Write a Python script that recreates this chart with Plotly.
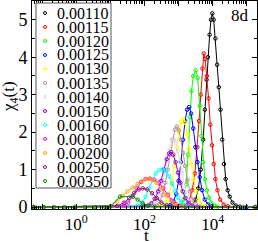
import plotly.graph_objects as go

# ---- data (log10 t , chi4) ----
labels = ["0.00110", "0.00115", "0.00120", "0.00125", "0.00130", "0.00135", "0.00140",
          "0.00150", "0.00160", "0.00180", "0.00200", "0.00250", "0.00350"]
colors = ["#000000", "#ff0000", "#00ff00", "#0000ff", "#ffff00", "#bc8f8f", "#dcdcdc",
          "#9400d3", "#00ffff", "#ff00ff", "#ffa500", "#8b1a6b", "#008b00"]

lt_110 = [-1.25, 3.2, 3.40, 3.50, 3.58, 3.65, 3.72, 3.77, 3.82, 3.86, 3.91, 3.95, 3.99, 4.03, 4.08, 4.13, 4.18, 4.23, 4.28, 4.33, 4.38, 4.44, 4.50, 4.58, 4.68, 4.80, 4.9, 5.25]
y_110 = [0.0, 0.01, 0.05, 0.2, 0.5, 1.0, 1.8, 2.6, 3.4, 4.0, 4.6, 5.0, 5.17, 5.0, 4.5, 3.8, 3.2, 2.6, 1.8, 1.15, 0.75, 0.45, 0.28, 0.12, 0.04, 0.01, 0.0, 0.0]

lt_115 = [-1.25, 3.20, 3.30, 3.40, 3.48, 3.55, 3.60, 3.65, 3.70, 3.74, 3.78, 3.83, 3.88, 3.93, 3.98, 4.03, 4.08, 4.14, 4.22, 4.32, 4.45, 5.25]
y_115 = [0.0, 0.05, 0.15, 0.45, 0.9, 1.6, 2.3, 3.0, 3.7, 4.1, 3.95, 3.5, 2.9, 2.2, 1.65, 1.15, 0.75, 0.45, 0.2, 0.07, 0.02, 0.0]

lt_120 = [-1.25, 3.05, 3.15, 3.22, 3.28, 3.33, 3.38, 3.43, 3.50, 3.56, 3.62, 3.67, 3.72, 3.77, 3.83, 3.89, 3.96, 4.05, 4.15, 5.25]
y_120 = [0.0, 0.05, 0.2, 0.6, 1.4, 2.4, 3.1, 3.5, 3.65, 3.45, 2.7, 1.9, 1.2, 0.75, 0.45, 0.25, 0.12, 0.05, 0.01, 0.0]

lt_125 = [-1.25, 2.75, 2.85, 2.93, 3.00, 3.07, 3.13, 3.19, 3.25, 3.31, 3.37, 3.43, 3.49, 3.55, 3.62, 3.69, 3.77, 3.86, 3.97, 5.0, 5.25]
y_125 = [0.0, 0.05, 0.15, 0.35, 0.7, 1.2, 1.8, 2.3, 2.6, 2.67, 2.5, 2.1, 1.6, 1.2, 0.8, 0.45, 0.2, 0.07, 0.02, 0.0, 0.0]

lt_130 = [-1.25, 2.55, 2.65, 2.73, 2.81, 2.88, 2.95, 3.01, 3.07, 3.13, 3.19, 3.25, 3.31, 3.37, 3.44, 3.51, 3.59, 3.68, 3.80, 5.25]
y_130 = [0.0, 0.05, 0.15, 0.35, 0.7, 1.1, 1.6, 2.0, 2.28, 2.36, 2.25, 1.95, 1.55, 1.15, 0.75, 0.42, 0.2, 0.08, 0.02, 0.0]

lt_135 = [-1.25, 2.35, 2.45, 2.53, 2.61, 2.68, 2.75, 2.82, 2.89, 2.95, 3.01, 3.07, 3.13, 3.19, 3.26, 3.33, 3.41, 3.50, 3.62, 5.25]
y_135 = [0.0, 0.05, 0.15, 0.33, 0.65, 1.0, 1.4, 1.8, 2.07, 2.15, 2.05, 1.8, 1.45, 1.1, 0.72, 0.42, 0.2, 0.08, 0.02, 0.0]

lt_140 = [-1.25, 2.25, 2.35, 2.43, 2.51, 2.59, 2.66, 2.73, 2.80, 2.86, 2.92, 2.98, 3.04, 3.10, 3.17, 3.24, 3.32, 3.42, 3.55, 5.25]
y_140 = [0.0, 0.05, 0.15, 0.3, 0.55, 0.9, 1.25, 1.55, 1.75, 1.8, 1.72, 1.5, 1.2, 0.9, 0.58, 0.33, 0.16, 0.06, 0.02, 0.0]

lt_150 = [-1.25, 2.10, 2.20, 2.30, 2.40, 2.49, 2.57, 2.65, 2.72, 2.78, 2.84, 2.91, 2.98, 3.05, 3.12, 3.20, 3.29, 3.40, 3.55, 5.25]
y_150 = [0.0, 0.04, 0.1, 0.22, 0.42, 0.7, 1.0, 1.28, 1.43, 1.47, 1.4, 1.2, 0.92, 0.65, 0.42, 0.24, 0.11, 0.04, 0.01, 0.0]

lt_160 = [-1.25, 1.80, 1.92, 2.03, 2.13, 2.23, 2.33, 2.44, 2.54, 2.63, 2.72, 2.81, 2.90, 2.99, 3.08, 3.18, 3.30, 4.9, 5.25]
y_160 = [0.0, 0.04, 0.12, 0.28, 0.5, 0.72, 0.9, 0.99, 1.01, 0.96, 0.82, 0.62, 0.42, 0.25, 0.13, 0.06, 0.02, 0.0, 0.0]

lt_180 = [-1.25, 1.40, 1.52, 1.64, 1.77, 1.90, 2.03, 2.16, 2.29, 2.42, 2.55, 2.68, 2.80, 2.92, 3.05, 5.25]
y_180 = [0.0, 0.04, 0.12, 0.3, 0.5, 0.67, 0.75, 0.76, 0.73, 0.65, 0.5, 0.33, 0.18, 0.08, 0.03, 0.0]

lt_200 = [-1.25, 1.00, 1.20, 1.35, 1.50, 1.65, 1.80, 1.95, 2.10, 2.22, 2.35, 2.50, 2.65, 2.80, 2.95, 3.10, 5.25]
y_200 = [0.0, 0.03, 0.15, 0.3, 0.42, 0.52, 0.62, 0.7, 0.75, 0.74, 0.65, 0.48, 0.3, 0.15, 0.06, 0.02, 0.0]

lt_250 = [-1.25, 1.20, 1.40, 1.55, 1.70, 1.83, 1.95, 2.08, 2.22, 2.36, 2.50, 2.65, 2.80, 5.25]
y_250 = [0.0, 0.03, 0.12, 0.25, 0.38, 0.47, 0.5, 0.47, 0.37, 0.24, 0.12, 0.05, 0.01, 0.0]

lt_350 = [-1.25, -0.95, -0.65, -0.35, -0.05, 0.25, 0.55, 0.85, 1.00, 1.28, 1.66, 1.80, 1.95, 2.10, 2.30, 5.25]
y_350 = [0.0, 0.0, 0.0, 0.0, 0.0, 0.0, 0.0, 0.0, 0.02, 0.28, 0.28, 0.2, 0.1, 0.04, 0.01, 0.0]

series_lt = [lt_110, lt_115, lt_120, lt_125, lt_130, lt_135, lt_140, lt_150, lt_160, lt_180, lt_200, lt_250, lt_350]
series_y = [y_110, y_115, y_120, y_125, y_130, y_135, y_140, y_150, y_160, y_180, y_200, y_250, y_350]

x_tick_vals = [1e-1, 1e0, 1e1, 1e2, 1e3, 1e4, 1e5]
x_tick_text = ["", "10<sup>0</sup>", "", "10<sup>2</sup>", "", "10<sup>4</sup>", ""]
y_tick_vals = [0, 1, 2, 3, 4, 5]

# ---- figure ----
W, H = 258, 242
L, R, T, B = 32, 1, 1, 33
PW, PH = W - L - R, H - T - B
SERIF = "Liberation Serif, Times New Roman, serif"


def px(xp):
    return (xp - L) / PW


def py(yp):
    return (H - B - yp) / PH


fig = go.Figure()
for lt, yv, c, lab in zip(series_lt, series_y, colors, labels):
    fig.add_trace(go.Scatter(
        x=[10 ** v for v in lt], y=yv, mode="lines+markers", name=lab,
        line=dict(color=c, width=1),
        marker=dict(symbol="circle-open", size=3.5, color=c, line=dict(width=1, color=c)),
        showlegend=False, hoverinfo="skip",
    ))

minor_x = [m * 10 ** d for d in range(-2, 6) for m in range(2, 10)]

fig.update_layout(
    width=W, height=H, margin=dict(l=L, r=R, t=T, b=B),
    paper_bgcolor="white", plot_bgcolor="white",
    font=dict(family=SERIF, size=16, color="black"),
    xaxis=dict(type="log", range=[-1.3, 5.3], tickvals=x_tick_vals, ticktext=x_tick_text,
               ticks="inside", ticklen=5, tickcolor="black", showline=True, linecolor="black",
               linewidth=1, mirror="allticks", showgrid=False, zeroline=False,
               tickfont=dict(family=SERIF, size=17),
               minor=dict(tickvals=minor_x, ticks="inside", ticklen=3, tickcolor="black", showgrid=False)),
    yaxis=dict(range=[-0.05, 5.5], tickvals=y_tick_vals, ticks="inside", ticklen=5, tickcolor="black",
               showline=True, linecolor="black", linewidth=1, mirror="allticks", showgrid=False,
               zeroline=False, tickfont=dict(family=SERIF, size=18),
               minor=dict(dtick=0.5, ticks="inside", ticklen=3, tickcolor="black", showgrid=False)),
)

# legend box
fig.add_shape(type="rect", xref="paper", yref="paper", x0=px(36), x1=px(111), y0=py(188), y1=py(3),
              line=dict(color="#555555", width=1), fillcolor="white", layer="above")
for i, (lab, c) in enumerate(zip(labels, colors)):
    yc = 13 + 14 * i
    fig.add_shape(type="circle", xref="paper", yref="paper", xsizemode="pixel", ysizemode="pixel",
                  xanchor=px(45), yanchor=py(yc), x0=-1.5, x1=1.5, y0=-1.5, y1=1.5,
                  line=dict(color=c, width=1), layer="above")
    fig.add_annotation(text=lab, xref="paper", yref="paper", x=px(56), y=py(yc), xanchor="left",
                       yanchor="middle", showarrow=False, font=dict(family=SERIF, size=16), borderpad=0)

# axis titles and label
fig.add_annotation(text="χ<sub>4</sub>(t)", xref="paper", yref="paper", x=px(10), y=py(97),
                   xanchor="center", yanchor="middle",
                   textangle=-90, showarrow=False, font=dict(family=SERIF, size=17))
fig.add_annotation(text="t", xref="paper", yref="paper", x=px(146), y=py(235), showarrow=False,
                   xanchor="center", yanchor="middle", font=dict(family=SERIF, size=17))
fig.add_annotation(text="8d", xref="paper", yref="paper", x=px(240), y=py(16), showarrow=False,
                   xanchor="center", yanchor="middle", font=dict(family=SERIF, size=17))

fig.write_html("out.html", config={"displayModeBar": False},
               post_script="document.body.style.margin='0';document.body.style.overflow='hidden';")
